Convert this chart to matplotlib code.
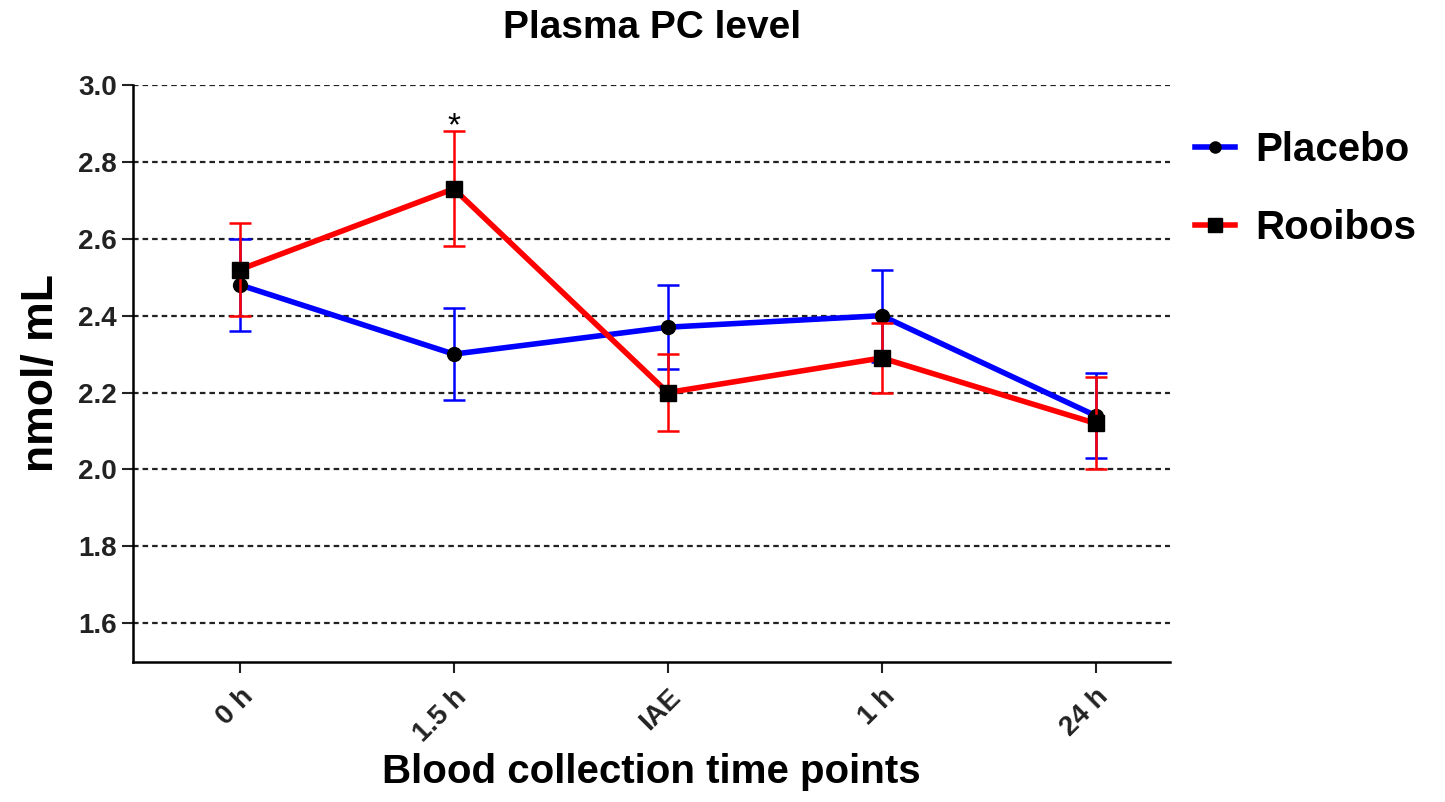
import numpy as np
import matplotlib.pyplot as plt
from matplotlib.lines import Line2D

plt.rcParams['font.family'] = ['Liberation Sans', 'DejaVu Sans']
plt.rcParams['font.weight'] = 'bold'

# Time points and group means (nmol/mL) with error bars
time_points = ['0 h', '1.5 h', 'IAE', '1 h', '24 h']
placebo = [2.48, 2.30, 2.37, 2.40, 2.14]
placebo_err = [0.12, 0.12, 0.11, 0.12, 0.11]
rooibos = [2.52, 2.73, 2.20, 2.29, 2.12]
rooibos_err = [0.12, 0.15, 0.10, 0.09, 0.12]

x = np.arange(len(time_points))

fig = plt.figure(figsize=(14.45, 8.02), dpi=100)
ax = fig.add_axes([0.092, 0.175, 0.718, 0.719])

ax.errorbar(x, placebo, yerr=placebo_err, color='#0000ff', lw=4, elinewidth=1.8,
            capsize=8, capthick=1.8, marker='o', ms=10, mfc='black', mec='black',
            zorder=3)
ax.errorbar(x, rooibos, yerr=rooibos_err, color='#ff0000', lw=4, elinewidth=1.8,
            capsize=8, capthick=1.8, marker='s', ms=11, mfc='black', mec='black',
            zorder=4)

# significance marker
ax.text(x[1], rooibos[1] + rooibos_err[1] - 0.03, '*', ha='center', va='bottom',
        fontsize=24, fontweight='normal')

ax.set_xlim(-0.5, 4.35)
ax.set_ylim(1.5, 3.0)
yticks = np.arange(1.6, 3.01, 0.2)
ax.set_yticks(yticks)
ax.set_yticklabels([f'{v:.1f}' for v in yticks])
ax.set_xticks(x)
ax.set_xticklabels(time_points, rotation=45, ha='right', rotation_mode='anchor')

ax.yaxis.grid(True, color='#222222', linestyle=(0, (2.5, 1.8)), lw=1.6)
ax.set_axisbelow(True)
for side in ['top', 'right']:
    ax.spines[side].set_visible(False)
ax.spines['left'].set_linewidth(1.8)
ax.spines['bottom'].set_linewidth(1.8)
ax.tick_params(axis='both', labelsize=20, width=1.5, length=8, colors='#222222')
ax.tick_params(axis='x', pad=8)

ax.set_ylabel('nmol/ mL', fontsize=32, fontweight='bold', labelpad=12)
ax.set_xlabel('Blood collection time points', fontsize=29, fontweight='bold', labelpad=4)
ax.set_title('Plasma PC level', fontsize=28, fontweight='bold', pad=34)

handles = [
    Line2D([], [], color='#0000ff', lw=4, marker='o', ms=8, mfc='black', mec='black'),
    Line2D([], [], color='#ff0000', lw=4, marker='s', ms=10, mfc='black', mec='black'),
]
leg = ax.legend(handles, ['Placebo', 'Rooibos'], loc='center left',
                bbox_to_anchor=(1.0, 0.82), frameon=False, fontsize=29,
                handlelength=1.0, handletextpad=0.5, labelspacing=1.0,
                borderaxespad=0.2)
for t in leg.get_texts():
    t.set_fontweight('bold')

fig.savefig('out.png', dpi=100)
